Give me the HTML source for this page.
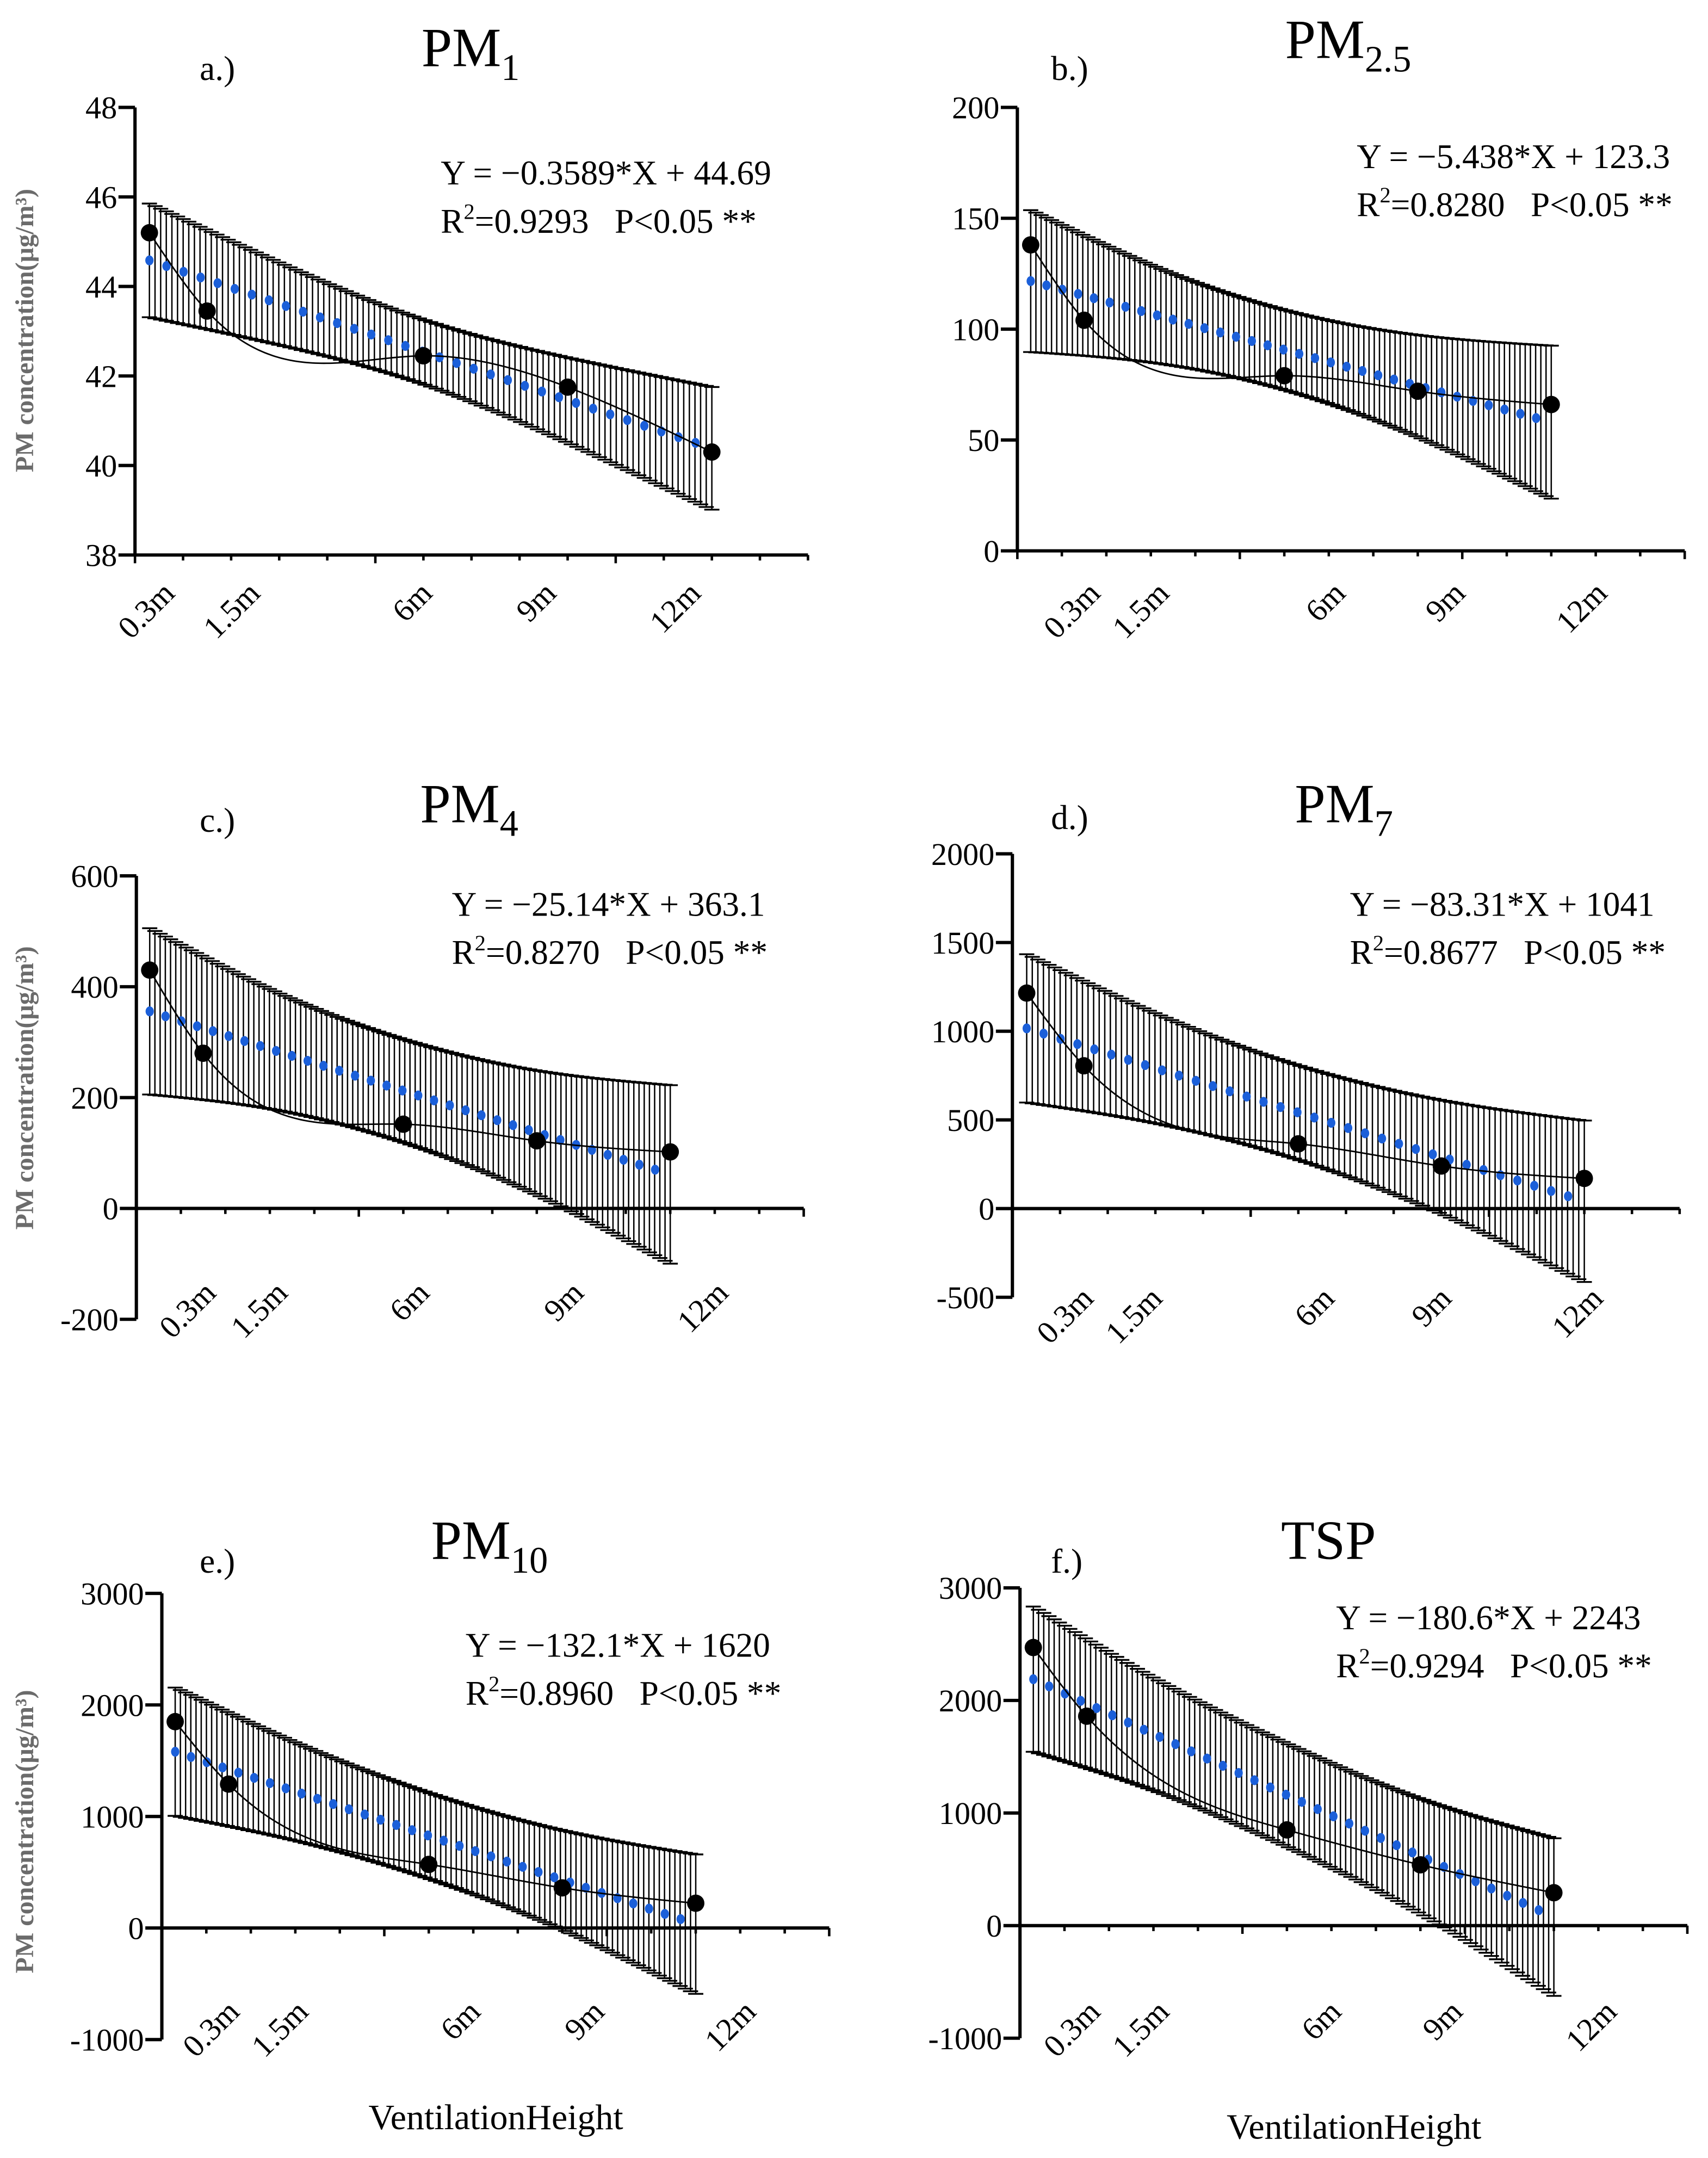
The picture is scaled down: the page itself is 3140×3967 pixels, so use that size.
<!DOCTYPE html>
<html><head><meta charset="utf-8"><style>
html,body{margin:0;padding:0;background:#fff;}
svg{display:block;}
</style></head><body>
<svg id="fig" xmlns="http://www.w3.org/2000/svg" width="3140" height="3967" viewBox="0 0 1240 1567" preserveAspectRatio="none" font-family="'Liberation Serif', serif">
<rect x="0" y="0" width="1240" height="1567" fill="#fff"/>
<g id="plots"></g>
<text x="360" y="1546" font-size="26" text-anchor="middle" font-family="'Liberation Serif', serif">VentilationHeight</text>
<text x="983" y="1553" font-size="26" text-anchor="middle" font-family="'Liberation Serif', serif">VentilationHeight</text>
</svg>
<script>
const heights = [0.3, 1.5, 6, 9, 12];
const tickNames = ["0.3m", "1.5m", "6m", "9m", "12m"];
const bandX = [0.3, 3, 6, 9, 12];
const pm1Values = [45.2, 43.45, 42.45, 41.75, 40.3];
const pm25Values = [138, 104, 79, 72, 66];
const pm4Values = [430, 280, 152, 122, 102];
const pm7Values = [1215, 805, 365, 240, 170];
const pm10Values = [1850, 1290, 570, 360, 222];
const tspValues = [2470, 1860, 850, 540, 292];
const slopes = [-0.3589, -5.438, -25.14, -83.31, -132.1, -180.6];
const intercepts = [44.69, 123.3, 363.1, 1041, 1620, 2243];
const pm1Half = [1.27, 0.92, 0.72, 0.95, 1.37];
const pm25Half = [32, 22, 18, 23, 34.5];
const pm4Half = [150, 108, 93, 112, 161];
const pm7Half = [418, 310, 266, 320, 455];
const pm10Half = [575, 440, 385, 445, 625];
const tspHalf = [645, 500, 457, 510, 700];
const pm1Ticks = [38, 40, 42, 44, 46, 48];
const pm25Ticks = [0, 50, 100, 150, 200];
const pm4Ticks = [-200, 0, 200, 400, 600];
const pm7Ticks = [-500, 0, 500, 1000, 1500, 2000];
const pm10Ticks = [-1000, 0, 1000, 2000, 3000];
const tspTicks = [-1000, 0, 1000, 2000, 3000];
const equations = ["Y = \u22120.3589*X + 44.69","Y = \u22125.438*X + 123.3","Y = \u221225.14*X + 363.1","Y = \u221283.31*X + 1041","Y = \u2212132.1*X + 1620","Y = \u2212180.6*X + 2243"];
const r2Texts = ["0.9293","0.8280","0.8270","0.8677","0.8960","0.9294"];
const pTexts = ["P<0.05 **","P<0.05 **","P<0.05 **","P<0.05 **","P<0.05 **","P<0.05 **"];

const NS = "http://www.w3.org/2000/svg";
const FF = "'Liberation Serif', serif";
const root = document.getElementById("plots");
function mk(tag, attrs, parent){ const e=document.createElementNS(NS,tag); for(const k in attrs) e.setAttribute(k,attrs[k]); if(tag==="text") e.setAttribute("font-family",FF); (parent||root).appendChild(e); return e; }

function spline(xs, ys){
  const n=xs.length, h=[], al=[], l=[1], mu=[0], z=[0], c=new Array(n).fill(0), b=[], d=[];
  for(let i=0;i<n-1;i++) h[i]=xs[i+1]-xs[i];
  for(let i=1;i<n-1;i++) al[i]=3/h[i]*(ys[i+1]-ys[i])-3/h[i-1]*(ys[i]-ys[i-1]);
  for(let i=1;i<n-1;i++){ l[i]=2*(xs[i+1]-xs[i-1])-h[i-1]*mu[i-1]; mu[i]=h[i]/l[i]; z[i]=(al[i]-h[i-1]*z[i-1])/l[i]; }
  l[n-1]=1; z[n-1]=0;
  for(let j=n-2;j>=0;j--){ c[j]=z[j]-mu[j]*c[j+1]; b[j]=(ys[j+1]-ys[j])/h[j]-h[j]*(c[j+1]+2*c[j])/3; d[j]=(c[j+1]-c[j])/(3*h[j]); }
  return function(x){ let i=0; while(i<n-2 && x>xs[i+1]) i++; const t=x-xs[i]; return ys[i]+b[i]*t+c[i]*t*t+d[i]*t*t*t; };
}

const panels = [
 {name:"pm1", letter:"a.)", title:"PM", sub:"1", vals:pm1Values, half:pm1Half, ticks:pm1Ticks, ox:98, ppm:34.9, xmax:14, yTop:78, yBot:403, axisVal:38,
  letterPos:[145,58], titlePos:[306,48], eqPos:[320,134], lblEnds:[128,190,315,405,510], lblY:432, ylabel:240},
 {name:"pm25", letter:"b.)", title:"PM", sub:"2.5", vals:pm25Values, half:pm25Half, ticks:pm25Ticks, ox:738.6, ppm:32.3, xmax:15, yTop:78, yBot:400, axisVal:0,
  letterPos:[763,58], titlePos:[933,42], eqPos:[985,122], lblEnds:[800,850,978,1065,1168], lblY:432, ylabel:null},
 {name:"pm4", letter:"c.)", title:"PM", sub:"4", vals:pm4Values, half:pm4Half, ticks:pm4Ticks, ox:99, ppm:32.3, xmax:15, yTop:636, yBot:958, axisVal:0,
  letterPos:[145,604], titlePos:[305,597], eqPos:[328,665], lblEnds:[158,210,313,425,530], lblY:940, ylabel:790},
 {name:"pm7", letter:"d.)", title:"PM", sub:"7", vals:pm7Values, half:pm7Half, ticks:pm7Ticks, ox:735, ppm:34.6, xmax:14, yTop:620, yBot:942, axisVal:0,
  letterPos:[763,602], titlePos:[940,597], eqPos:[980,665], lblEnds:[795,845,970,1055,1165], lblY:944, ylabel:null},
 {name:"pm10", letter:"e.)", title:"PM", sub:"10", vals:pm10Values, half:pm10Half, ticks:pm10Ticks, ox:117.5, ppm:32.3, xmax:15, yTop:1157, yBot:1481, axisVal:0,
  letterPos:[145,1142], titlePos:[313,1132], eqPos:[338,1203], lblEnds:[175,225,350,440,550], lblY:1462, ylabel:1330},
 {name:"tsp", letter:"f.)", title:"TSP", sub:"", vals:tspValues, half:tspHalf, ticks:tspTicks, ox:740.5, ppm:32.3, xmax:15, yTop:1153, yBot:1480, axisVal:0,
  letterPos:[763,1142], titlePos:[930,1132], eqPos:[970,1183], lblEnds:[800,850,975,1063,1175], lblY:1462, ylabel:null}
];

panels.forEach((p,pi)=>{
  const g = mk("g",{});
  
  
  const tmin=p.ticks[0], tmax=p.ticks[p.ticks.length-1];
  const X = v => p.ox + v*p.ppm;
  const Y = v => p.yBot - (v-tmin)/(tmax-tmin)*(p.yBot-p.yTop);
  const slope=slopes[pi], icpt=intercepts[pi];
  const reg = x => slope*x+icpt;
  const hw = spline(bandX, p.half);
  const hg = mk("g",{},g);
  
  
  let vpath="", cpath="";
  const N=100;
  for(let i=0;i<=N;i++){
    const x=0.3+(12-0.3)*i/N;
    const up=Y(reg(x)+hw(x)), lo=Y(reg(x)-hw(x)), xx=X(x);
    vpath+=`M${xx.toFixed(2)} ${up.toFixed(2)}V${lo.toFixed(2)}`;
    cpath+=`M${(xx-5.5).toFixed(2)} ${up.toFixed(2)}h11M${(xx-5.5).toFixed(2)} ${lo.toFixed(2)}h11`;
  }
  mk("path",{d:vpath,stroke:"#000","stroke-width":1.0,fill:"none"},hg);
  mk("path",{d:cpath,stroke:"#000","stroke-width":1.3,fill:"none"},hg);
  const rg = mk("g",{},g);
  
  
  for(let i=0;i<33;i++){
    const x=0.3+i*0.355;
    mk("ellipse",{cx:X(x),cy:Y(reg(x)),rx:3,ry:3.6,fill:"#1b5fd9"},rg);
  }
  const sp = spline(heights, p.vals);
  let cd="";
  for(let i=0;i<=200;i++){ const x=heights[0]+(heights[4]-heights[0])*i/200; cd+=(i?"L":"M")+X(x).toFixed(2)+" "+Y(sp(x)).toFixed(2); }
  const cv = mk("path",{d:cd,stroke:"#000","stroke-width":1.1,fill:"none"},g);
  
  
  heights.forEach((h,i)=>{
    const c = mk("circle",{cx:X(h),cy:Y(p.vals[i]),r:6.3,fill:"#000"},g);
    
    
  });
  const ay = Y(p.axisVal);
  const ya = mk("line",{x1:p.ox,y1:p.yTop,x2:p.ox,y2:p.yBot,stroke:"#000","stroke-width":2.4},g);
  
  
  const xa = mk("line",{x1:p.ox,y1:ay,x2:X(p.xmax),y2:ay,stroke:"#000","stroke-width":2.4},g);
  
  
  for(let m=0;m<=p.xmax;m++){
    mk("line",{x1:X(m),y1:ay,x2:X(m),y2:ay+(m%5===0?6:4),stroke:"#000","stroke-width":1.8},g);
  }
  p.ticks.forEach(t=>{
    mk("line",{x1:p.ox-12,y1:Y(t),x2:p.ox,y2:Y(t),stroke:"#000","stroke-width":2.4},g);
    const tl = mk("text",{x:p.ox-13,y:Y(t)+8,"font-size":23,"text-anchor":"end"},g);
    tl.textContent=t;
    
    
  });
  tickNames.forEach((n,i)=>{
    const ex=p.lblEnds[i], ey=p.lblY;
    const tl = mk("text",{x:ex,y:ey,"font-size":23,"text-anchor":"end",transform:`rotate(-45 ${ex} ${ey})`},g);
    tl.textContent=n;
    
    
  });
  const lt = mk("text",{x:p.letterPos[0],y:p.letterPos[1],"font-size":25},g);
  lt.textContent=p.letter;
  
  
  const tt = mk("text",{x:p.titlePos[0],y:p.titlePos[1],"font-size":40},g);
  
  
  const t1 = mk("tspan",{},tt); t1.textContent=p.title;
  if(p.sub){ const t2=mk("tspan",{"font-size":27,dy:10},tt); t2.textContent=p.sub; }
  const eq = mk("text",{x:p.eqPos[0],y:p.eqPos[1],"font-size":25},g);
  eq.textContent=equations[pi];
  
  
  const r2 = mk("text",{x:p.eqPos[0],y:p.eqPos[1]+35,"font-size":25},g);
  
  
  const a=mk("tspan",{},r2); a.textContent="R";
  const b=mk("tspan",{"font-size":16,dy:-10},r2); b.textContent="2";
  const c=mk("tspan",{dy:10},r2); c.textContent="="+r2Texts[pi]+"\u00a0\u00a0\u00a0"+pTexts[pi];
  if(p.ylabel!==null){
    const yl = mk("text",{x:24,y:p.ylabel,"font-size":19,"font-weight":"bold",fill:"#6b6b6b","text-anchor":"middle",transform:`rotate(-90 24 ${p.ylabel})`},g);
    yl.textContent="PM concentration(\u03bcg/m\u00b3)";
    
    
  }
});
</script>
</body></html>
